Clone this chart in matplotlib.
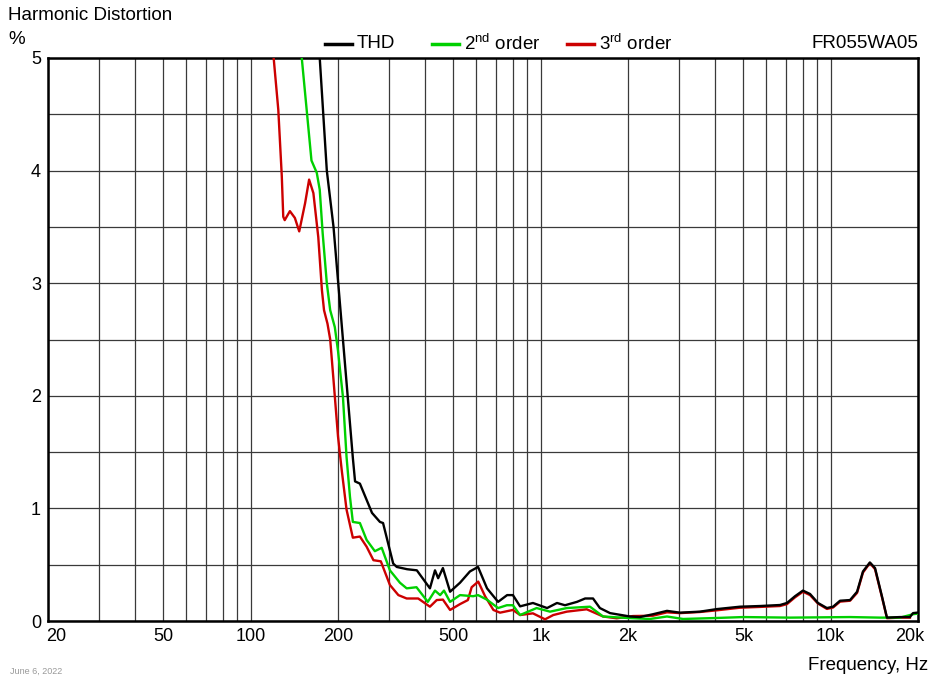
import matplotlib.pyplot as plt
import matplotlib.ticker as mticker
import matplotlib.transforms as mtransforms

plt.rcParams['font.family'] = ['Liberation Sans', 'DejaVu Sans']
plt.rcParams['mathtext.default'] = 'regular'

# THD (black)
thd_f = [165, 173, 183, 193, 208, 225, 229, 238, 262, 279, 286, 310, 319, 346, 374,
         415, 432, 443, 460, 487, 527, 570, 608, 653, 713, 766, 802, 849, 940, 1052,
         1138, 1213, 1334, 1423, 1515, 1600, 1734, 2032, 2198, 2438, 2725, 3022, 3541,
         4054, 4866, 5703, 6684, 7065, 7532, 8020, 8487, 9040, 9705, 10190, 10770,
         11660, 12330, 12920, 13650, 14220, 15030, 15630, 17340, 18760, 19220, 19860]
thd_v = [5.6, 5.0, 4.0, 3.5, 2.5, 1.45, 1.24, 1.22, 0.96, 0.88, 0.87, 0.51, 0.48, 0.46, 0.45,
         0.29, 0.45, 0.38, 0.47, 0.26, 0.34, 0.44, 0.48, 0.29, 0.17, 0.23, 0.23, 0.13, 0.16, 0.115,
         0.16, 0.14, 0.17, 0.2, 0.2, 0.115, 0.07, 0.04, 0.035, 0.06, 0.09, 0.074, 0.083,
         0.106, 0.127, 0.133, 0.142, 0.16, 0.22, 0.27, 0.24, 0.16, 0.115, 0.127, 0.18,
         0.186, 0.26, 0.44, 0.52, 0.47, 0.216, 0.03, 0.035, 0.035, 0.07, 0.074]

# 2nd order (green)
h2_f = [140, 150, 162, 169, 173, 177, 183, 188, 195, 200, 208, 214, 220, 225, 238, 251,
        268, 283, 302, 327, 345, 373, 408, 432, 450, 464, 487, 527, 585, 608, 652, 713,
        764, 802, 849, 968, 1077, 1230, 1479, 1641, 1982, 2380, 2725, 3098, 4054, 4985,
        7240, 11660, 14790, 17340, 19220, 19860]
h2_v = [5.6, 5.0, 4.09, 3.98, 3.83, 3.45, 3.0, 2.76, 2.61, 2.4, 1.99, 1.46, 1.1, 0.88, 0.87, 0.72,
        0.62, 0.65, 0.45, 0.34, 0.29, 0.30, 0.17, 0.27, 0.23, 0.27, 0.17, 0.23, 0.22, 0.23, 0.19, 0.115,
        0.14, 0.14, 0.053, 0.115, 0.083, 0.115, 0.127, 0.04, 0.027, 0.018, 0.04, 0.018, 0.027, 0.035,
        0.03, 0.035, 0.03, 0.03, 0.06, 0.065]

# 3rd order (red)
h3_f = [115, 120, 124.5, 128, 129.5, 131, 136.5, 142, 147, 154, 159, 164.5, 171, 176, 179,
        184, 188, 193, 200, 206, 214, 225, 238, 251, 265, 281, 302, 323, 345, 378, 415,
        438, 460, 487, 527, 561, 578, 609, 643, 687, 724, 802, 849, 940, 1035, 1105, 1230,
        1441, 1641, 1829, 2080, 2438, 2725, 3022, 3541, 4054, 4866, 5703, 6684, 7065, 7532,
        8020, 8487, 9040, 9705, 10190, 10770, 11660, 12330, 12920, 13650, 14220, 15030,
        15630, 17340, 18760]
h3_v = [5.5, 5.0, 4.54, 3.95, 3.59, 3.56, 3.64, 3.58, 3.46, 3.71, 3.92, 3.8, 3.41, 2.94, 2.76,
        2.64, 2.5, 2.14, 1.64, 1.34, 0.99, 0.74, 0.75, 0.66, 0.54, 0.53, 0.32, 0.23, 0.2, 0.2, 0.127,
        0.186, 0.19, 0.098, 0.15, 0.186, 0.3, 0.35, 0.22, 0.098, 0.074, 0.098, 0.053, 0.068, 0.015,
        0.053, 0.083, 0.104, 0.04, 0.024, 0.044, 0.047, 0.077, 0.07, 0.08, 0.095, 0.118, 0.125,
        0.133, 0.15, 0.21, 0.26, 0.23, 0.155, 0.107, 0.12, 0.172, 0.18, 0.25, 0.43, 0.515, 0.46,
        0.21, 0.025, 0.03, 0.03]

x_ticks = [20, 50, 100, 200, 500, 1000, 2000, 5000, 10000, 20000]
x_labels = ['20', '50', '100', '200', '500', '1k', '2k', '5k', '10k', '20k']

fig = plt.figure(figsize=(9.3, 6.77), dpi=100)
ax = fig.add_axes([48/930, 56/677, 870/930, 563/677])

ax.plot(h3_f, h3_v, color='#cc0000', lw=1.7, zorder=3, solid_joinstyle='round')
ax.plot(h2_f, h2_v, color='#00d000', lw=1.7, zorder=4, solid_joinstyle='round')
ax.plot(thd_f, thd_v, color='black', lw=1.7, zorder=5, solid_joinstyle='round')

ax.set_xscale('log')
ax.set_xlim(20, 20000)
ax.set_ylim(0, 5)
ax.set_xticks(x_ticks)
ax.set_xticklabels(x_labels)
ax.xaxis.set_minor_locator(mticker.LogLocator(base=10, subs=range(2, 10)))
ax.xaxis.set_minor_formatter(mticker.NullFormatter())
ax.set_yticks([0, 1, 2, 3, 4, 5])
ax.set_yticks([0.5, 1.5, 2.5, 3.5, 4.5], minor=True)
ax.grid(True, which='both', color='#3a3a3a', lw=0.9)
ax.tick_params(which='both', length=0, labelsize=13, pad=5)
for s in ax.spines.values():
    s.set_linewidth(1.8)

# end labels sit inside the axis ends, as in the original
labs = ax.get_xticklabels()
labs[0].set_transform(labs[0].get_transform() + mtransforms.ScaledTranslation(8/100, 0, fig.dpi_scale_trans))
labs[-1].set_transform(labs[-1].get_transform() + mtransforms.ScaledTranslation(-8/100, 0, fig.dpi_scale_trans))

fs = 13.5
fig.text(8/930, 1 - 16/677, 'Harmonic Distortion', fontsize=fs, va='center', ha='left')
fig.text(8/930, 1 - 40/677, '%', fontsize=fs, va='center', ha='left')
fig.text(918/930, 1 - 44/677, 'FR055WA05', fontsize=fs, va='center', ha='right')
fig.text(928/930, 1 - 665/677, 'Frequency, Hz', fontsize=fs, va='center', ha='right')
fig.text(10/930, 1 - 671/677, 'June 6, 2022', fontsize=6.5, color='#999999', va='center', ha='left')

leg_items = [('black', 'THD', 325), ('#00d000', '2$^{nd}$ order', 432), ('#cc0000', '3$^{rd}$ order', 567)]
for col, lab, x0 in leg_items:
    y = 1 - 44/677
    fig.add_artist(plt.Line2D([x0/930, (x0 + 27)/930], [y, y], color=col, lw=2.5))
    fig.text((x0 + 32)/930, y, lab, fontsize=fs, va='center', ha='left')

fig.savefig('out.png', dpi=100)
